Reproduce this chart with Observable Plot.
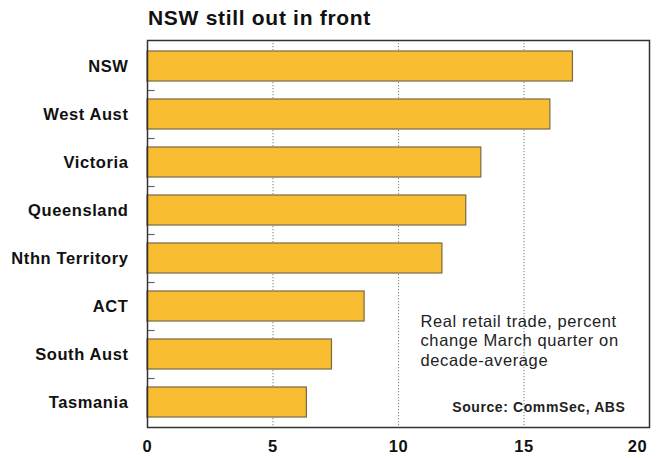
<!DOCTYPE html>
<html>
<head>
<meta charset="utf-8">
<script src="https://cdn.jsdelivr.net/npm/d3@7"></script>
<script src="https://cdn.jsdelivr.net/npm/@observablehq/plot@0.6"></script>
<style>
  html, body { margin: 0; padding: 0; background: #fff; }
  #wrap { width: 658px; height: 458px; position: relative; font-family: "Liberation Sans", Arial, sans-serif; }
  #title { height: 30px; padding-left: 148px; font-size: 21px; letter-spacing: 0.7px; font-weight: bold; color: #111; line-height: 36px; box-sizing: border-box; white-space: nowrap; }
  svg { display: block; }
  svg text { letter-spacing: 0.6px; }
</style>
</head>
<body>
<div id="wrap">
  <div id="title">NSW still out in front</div>
  <div id="chart"></div>
</div>
<script>
const states = ["NSW", "West Aust", "Victoria", "Queensland", "Nthn Territory", "ACT", "South Aust", "Tasmania"];
const values = [16.95, 16.05, 13.3, 12.7, 11.75, 8.65, 7.35, 6.35];
const xTicks = [0, 5, 10, 15];
const lastTick = [20];
const gridTicks = [5, 10, 15];
const noteLines = ["Real retail trade, percent", "change March quarter on", "decade-average"];
const sourceText = "Source: CommSec, ABS";

const data = states.map((s, i) => ({state: s, value: values[i]}));
const font = "Liberation Sans, Arial, sans-serif";

const chart = Plot.plot({
  width: 658,
  height: 428,
  marginTop: 10,
  marginBottom: 31,
  marginLeft: 147,
  marginRight: 9,
  style: {fontFamily: font, background: "#fff", color: "#111"},
  x: {domain: [0, 20], label: null},
  y: {domain: states, paddingInner: 0.375, paddingOuter: 0.19, label: null},
  marks: [
    Plot.ruleX(gridTicks, {stroke: "#888", strokeDasharray: "1.2,1.8", strokeWidth: 1.1}),
    Plot.ruleY(states.slice(1), {x1: 0, x2: 0.3, dy: -24, stroke: "#666", strokeWidth: 1.2}),
    Plot.barX(data, {x: "value", y: "state", fill: "#F8BD30", stroke: "#7a6a44", strokeWidth: 1.2}),
    Plot.axisX({ticks: xTicks, label: null, tickSize: 0, tickPadding: 13, fontSize: 16.5, fontWeight: "bold", tickFormat: d => String(d)}),
    Plot.axisX({ticks: lastTick, label: null, tickSize: 0, tickPadding: 13, dx: -12, fontSize: 16.5, fontWeight: "bold", tickFormat: d => String(d)}),
    Plot.axisY({label: null, tickSize: 0, tickPadding: 19, fontSize: 16.5, fontWeight: "bold"}),
    Plot.frame({stroke: "#333", strokeWidth: 1.5}),
    Plot.text([noteLines.join("\n")], {frameAnchor: "bottom-right", dx: -229, dy: -62, textAnchor: "start", lineAnchor: "bottom", lineHeight: 1.18, fontSize: 16.5, fill: "#222"}),
    Plot.text([sourceText], {frameAnchor: "bottom-right", dx: -24, dy: -20, textAnchor: "end", lineAnchor: "middle", fontSize: 14, fontWeight: "bold", fill: "#222"})
  ]
});
document.getElementById("chart").appendChild(chart);
</script>
</body>
</html>
